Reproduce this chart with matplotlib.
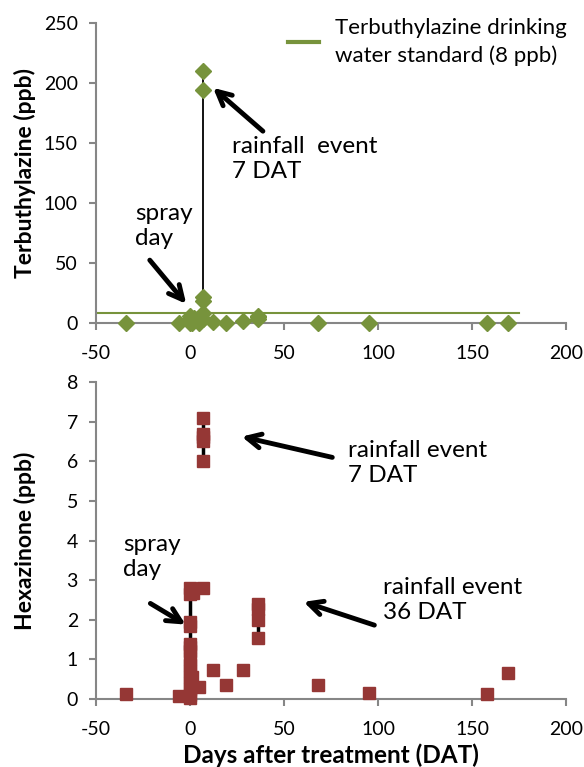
import matplotlib
matplotlib.use("Agg")
import matplotlib.pyplot as plt

# terbuthylazine samples (days after treatment, ppb)
terb_days = [-34, -6, 0, 0, 0, 1, 2, 5, 7, 7, 7, 7, 7, 7, 12, 19, 28, 36, 36, 36, 68, 95, 158, 169]
terb_ppb = [0, 0, 0, 3, 6, 0, 4, 0, 210, 194, 22, 18, 8, 3, 1, 0, 2, 3, 5, 6, 0, 0, 0, 0]

# rainfall event 7 DAT (terbuthylazine)
terb_event_days = [7, 7, 7, 7, 7]
terb_event_ppb = [8, 18, 22, 194, 210]

# drinking water standard
standard_days = [-50, 175]
standard_ppb = [8, 8]

# hexazinone samples
hexa_days = [-34, -6,
             0, 0, 0, 0, 0, 0, 0, 0, 0, 0, 0, 0, 0, 0, 0,
             1.5, 1, 5,
             7, 7, 7, 7, 7, 7,
             12, 19, 28,
             36, 36, 36, 36,
             68, 95, 158, 169]
hexa_ppb = [0.12, 0.08,
            2.8, 2.65, 1.95, 1.85, 1.4, 1.3, 1.2, 1.0, 0.85, 0.7, 0.55, 0.4, 0.25, 0.1, 0.03,
            2.68, 0.55, 0.3,
            7.1, 6.7, 6.6, 6.5, 6.0, 2.8,
            0.72, 0.35, 0.72,
            2.4, 2.28, 2.0, 1.55,
            0.35, 0.15, 0.12, 0.65]

# connecting lines for event sampling
hexa_spray_days = [0, 0]
hexa_spray_ppb = [0.03, 2.8]
hexa_7dat_days = [7, 7]
hexa_7dat_ppb = [6.0, 7.1]
hexa_36dat_days = [36, 36]
hexa_36dat_ppb = [1.55, 2.4]

x_ticks = [-50, 0, 50, 100, 150, 200]

GREEN = "#77933C"
RED = "#953735"
GRAY = "#868686"

plt.rcParams['font.family'] = ['Lato', 'DejaVu Sans']
plt.rcParams['axes.unicode_minus'] = False


def style_axis(ax):
    for side in ("top", "right"):
        ax.spines[side].set_visible(False)
    for side in ("left", "bottom"):
        ax.spines[side].set_color(GRAY)
        ax.spines[side].set_linewidth(1.5)
    ax.tick_params(direction="out", length=5, width=1.5, color=GRAY, labelsize=14)
    ax.tick_params(axis="x", pad=11)
    ax.tick_params(axis="y", pad=8)
    ax.set_xlim(-50, 200)
    ax.set_xticks(x_ticks)
    ax.yaxis.set_label_coords(-0.128, 0.5)


def arrow(ax, xy_from, xy_to):
    # arrows are placed in figure pixels
    ax.annotate("", xy=xy_to, xycoords="figure pixels",
                xytext=xy_from, textcoords="figure pixels",
                arrowprops=dict(arrowstyle="->,head_length=1.0,head_width=0.5", lw=3.5, color="black"))


def main():
    fig = plt.figure(figsize=(5.84, 7.67), dpi=100)
    H = 767

    ax1 = fig.add_axes([96 / 584, 1 - 323 / H, 470 / 584, 300 / H])
    ax2 = fig.add_axes([96 / 584, 1 - 699 / H, 470 / 584, 317 / H])

    # top: terbuthylazine
    ax1.plot(standard_days, standard_ppb, color=GREEN, lw=1.5,
             label="Terbuthylazine drinking\nwater standard (8 ppb)", zorder=2)
    ax1.plot(terb_event_days, terb_event_ppb, color="black", lw=1.3, zorder=3)
    ax1.plot(terb_days, terb_ppb, linestyle="none", marker="D", markersize=8,
             color=GREEN, zorder=4, clip_on=False)
    ax1.set_ylim(0, 250)
    ax1.set_yticks([0, 50, 100, 150, 200, 250])
    ax1.set_ylabel("Terbuthylazine (ppb)", fontsize=16.5, fontweight="bold")
    style_axis(ax1)
    leg = ax1.legend(loc="upper left", bbox_to_anchor=(288 / 584, 1 - 18 / H),
                     bbox_transform=fig.transFigure, frameon=False, fontsize=16,
                     handlelength=1.4, handletextpad=0.72, borderaxespad=0, borderpad=0)
    for t in leg.get_texts():
        t.set_linespacing(1.45)
    for h in leg.legend_handles:
        h.set_linewidth(3)

    ax1.text(232, H - 159, "rainfall  event\n7 DAT", transform=None, fontsize=17.5,
             va="center", ha="left", linespacing=1.25)
    ax1.text(135, H - 226, "spray\nday", transform=None, fontsize=17.5,
             va="center", ha="left", linespacing=1.25)

    # bottom: hexazinone
    for xs, ys in [(hexa_spray_days, hexa_spray_ppb),
                   (hexa_7dat_days, hexa_7dat_ppb),
                   (hexa_36dat_days, hexa_36dat_ppb)]:
        ax2.plot(xs, ys, color="black", lw=2.5, zorder=3)
    ax2.plot(hexa_days, hexa_ppb, linestyle="none", marker="s", markersize=9,
             color=RED, zorder=4, clip_on=False)
    ax2.set_ylim(0, 8)
    ax2.set_yticks(range(0, 9))
    ax2.set_ylabel("Hexazinone (ppb)", fontsize=16.5, fontweight="bold")
    ax2.set_xlabel("Days after treatment (DAT)", fontsize=17.5, fontweight="bold", labelpad=4)
    style_axis(ax2)

    ax2.text(348, H - 463, "rainfall event\n7 DAT", transform=None, fontsize=17.5,
             va="center", ha="left", linespacing=1.25)
    ax2.text(123, H - 557, "spray\nday", transform=None, fontsize=17.5,
             va="center", ha="left", linespacing=1.25)
    ax2.text(383, H - 600, "rainfall event\n36 DAT", transform=None, fontsize=17.5,
             va="center", ha="left", linespacing=1.25)

    arrow(ax1, (265, H - 133), (211, H - 86))
    arrow(ax1, (148, H - 258), (188, H - 306))
    arrow(ax2, (335, H - 458), (239, H - 436))
    arrow(ax2, (148, H - 602), (188, H - 626))
    arrow(ax2, (377, H - 626), (301, H - 601))

    fig.savefig("out.png", dpi=100)


if "__main__" == __name__:
    main()
